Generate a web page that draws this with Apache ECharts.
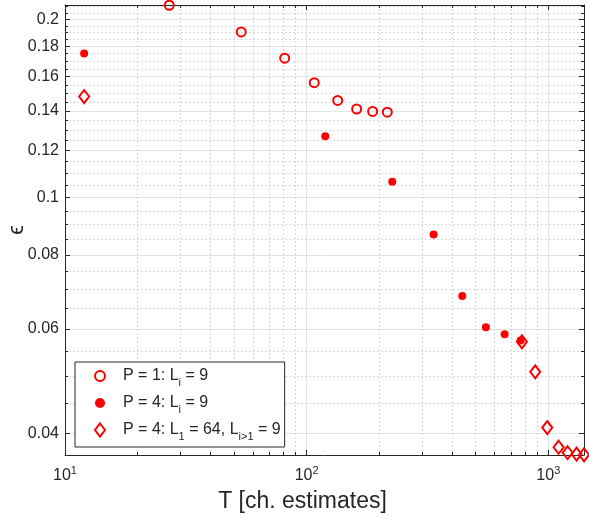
<!DOCTYPE html>
<html><head><meta charset="utf-8">
<script src="https://cdn.jsdelivr.net/npm/echarts@6/dist/echarts.min.js"></script>
<style>html,body{margin:0;padding:0;background:#fff}#c{width:589px;height:518px}</style>
</head><body><div id="c"></div>
<script>
// ---- data ----
const circleT = [27, 53.6, 81.1, 107.5, 134.4, 161, 187.5, 215.6];
const circleE = [0.2112, 0.1904, 0.1719, 0.1563, 0.1459, 0.1411, 0.1398, 0.1394];
const dotT = [12, 119.4, 226.1, 335.3, 440.4, 551.8, 659.5, 768];
const dotE = [0.1750, 0.1269, 0.1064, 0.0866, 0.0682, 0.0604, 0.0588, 0.0574];
const diamondT = [12, 777.7, 882.6, 990, 1103, 1202, 1309, 1405];
const diamondE = [0.1481, 0.0571, 0.0508, 0.0409, 0.0379, 0.0371, 0.0369, 0.0368];
const seriesNames = ['P = 1: Li = 9', 'P = 4: Li = 9', 'P = 4: L1 = 64, Li>1 = 9'];
const legendRich = ['P = 1: L{s|i} = 9', 'P = 4: L{s|i} = 9', 'P = 4: L{s|1} = 64, L{s|i>1} = 9'];

const xMajor = [10, 100, 1000];
const xMajorExp = ['1', '2', '3'];
const xMinor = [20,30,40,50,60,70,80,90,200,300,400,500,600,700,800,900];
const yMajor = [0.04,0.06,0.08,0.1,0.12,0.14,0.16,0.18,0.2];
const yMajorLabels = ['0.04','0.06','0.08','0.1','0.12','0.14','0.16','0.18','0.2'];
const yMinor = [0.045,0.05,0.055,0.065,0.07,0.075,0.085,0.09,0.095,0.105,0.11,0.115,
  0.125,0.13,0.135,0.145,0.15,0.155,0.165,0.17,0.175,0.185,0.19,0.195,0.205,0.21];
const xRange = [10, 1405];
const yRange = [0.03677, 0.2114];
const xName = 'T [ch. estimates]';
const yName = 'ϵ';

// ---- style ----
const FONT = 'Liberation Sans, Arial, Helvetica, sans-serif';
const INK = '#262626';
const RED = '#ff0000';
const majorGrid = {color: '#e2e2e2', width: 1, type: 'solid'};
const minorGrid = {color: '#d8d8d8', width: 1, type: [2, 2]};

function axis(range, position, ticks, tickLen, showLine, grid, extra) {
  return Object.assign({
    type: 'log', logBase: 10, position: position, min: range[0], max: range[1],
    axisLine: {show: showLine, onZero: false, lineStyle: {color: INK, width: 1}},
    axisTick: {show: true, inside: true, length: tickLen, customValues: ticks, lineStyle: {color: INK, width: 1}},
    axisLabel: {show: false},
    splitLine: grid ? {show: true, lineStyle: grid} : {show: false},
    minorTick: {show: false}, minorSplitLine: {show: false}
  }, extra || {});
}

const xAxes = [
  axis(xRange, 'bottom', xMajor, 5, true, majorGrid, {
    name: xName, nameLocation: 'middle', nameGap: 35, nameMoveOverlap: false,
    nameTextStyle: {fontSize: 23, color: INK, fontFamily: FONT, padding: [0, 44, 0, 0]},
    axisLabel: {
      show: true, customValues: xMajor, margin: 10, fontSize: 16, lineHeight: 22,
      color: INK, fontFamily: FONT,
      formatter: function (v) { return '10{e|' + xMajorExp[xMajor.indexOf(Math.round(v))] + '}'; },
      rich: {e: {fontSize: 11, lineHeight: 11, verticalAlign: 'top', color: INK, fontFamily: FONT}}
    }
  }),
  axis(xRange, 'bottom', xMinor, 3, false, minorGrid),
  axis(xRange, 'top', xMajor, 5, true, null),
  axis(xRange, 'top', xMinor, 3, false, null)
];
const yAxes = [
  axis(yRange, 'left', yMajor, 5, true, majorGrid, {
    name: yName, nameLocation: 'middle', nameGap: 37, nameMoveOverlap: false,
    nameTextStyle: {fontSize: 22, color: INK, fontFamily: 'Liberation Sans, DejaVu Sans, sans-serif'},
    axisLabel: {
      show: true, customValues: yMajor, margin: 6, fontSize: 16, color: INK, fontFamily: FONT,
      formatter: function (v) {
        let best = 0;
        yMajor.forEach(function (t, i) { if (Math.abs(t - v) < Math.abs(yMajor[best] - v)) best = i; });
        return yMajorLabels[best];
      }
    }
  }),
  axis(yRange, 'left', yMinor, 3, false, minorGrid),
  axis(yRange, 'right', yMajor, 5, true, null),
  axis(yRange, 'right', yMinor, 3, false, null)
];

function pairs(xs, ys) { return xs.map(function (x, i) { return [x, ys[i]]; }); }

const chart = echarts.init(document.getElementById('c'), null, {renderer: 'canvas'});
chart.setOption({
  animation: false,
  backgroundColor: '#fff',
  grid: {left: 65, right: 5, top: 5, bottom: 63, containLabel: false, outerBoundsMode: 'none'},
  xAxis: xAxes,
  yAxis: yAxes,
  legend: {
    orient: 'vertical', left: 75, top: 362,
    itemWidth: 10, itemHeight: 13, itemGap: 3,
    padding: [2, 4, 5, 19],
    backgroundColor: '#fff', borderColor: INK, borderWidth: 1, borderRadius: 0,
    data: seriesNames,
    textStyle: {
      fontFamily: FONT, fontSize: 16, color: INK, lineHeight: 24,
      rich: {
        s: {fontSize: 11, lineHeight: 11, verticalAlign: 'bottom', color: INK, fontFamily: FONT},
        g: {width: 13, fontSize: 16}
      }
    },
    formatter: function (name) { return '{g| }' + legendRich[seriesNames.indexOf(name)]; }
  },
  series: [
    {
      name: seriesNames[0], type: 'scatter', clip: false, z: 3,
      symbol: 'circle', symbolSize: 9,
      itemStyle: {color: 'rgba(255,255,255,0)', borderColor: RED, borderWidth: 2, opacity: 1},
      data: pairs(circleT, circleE)
    },
    {
      name: seriesNames[1], type: 'scatter', clip: false, z: 3,
      symbol: 'circle', symbolSize: 8,
      itemStyle: {color: RED, borderWidth: 0, opacity: 1},
      data: pairs(dotT, dotE)
    },
    {
      name: seriesNames[2], type: 'scatter', clip: false, z: 4,
      symbol: 'diamond', symbolSize: [10, 13],
      itemStyle: {color: 'rgba(255,255,255,0)', borderColor: RED, borderWidth: 2, opacity: 1},
      data: pairs(diamondT, diamondE)
    }
  ]
});
</script>
</body></html>
